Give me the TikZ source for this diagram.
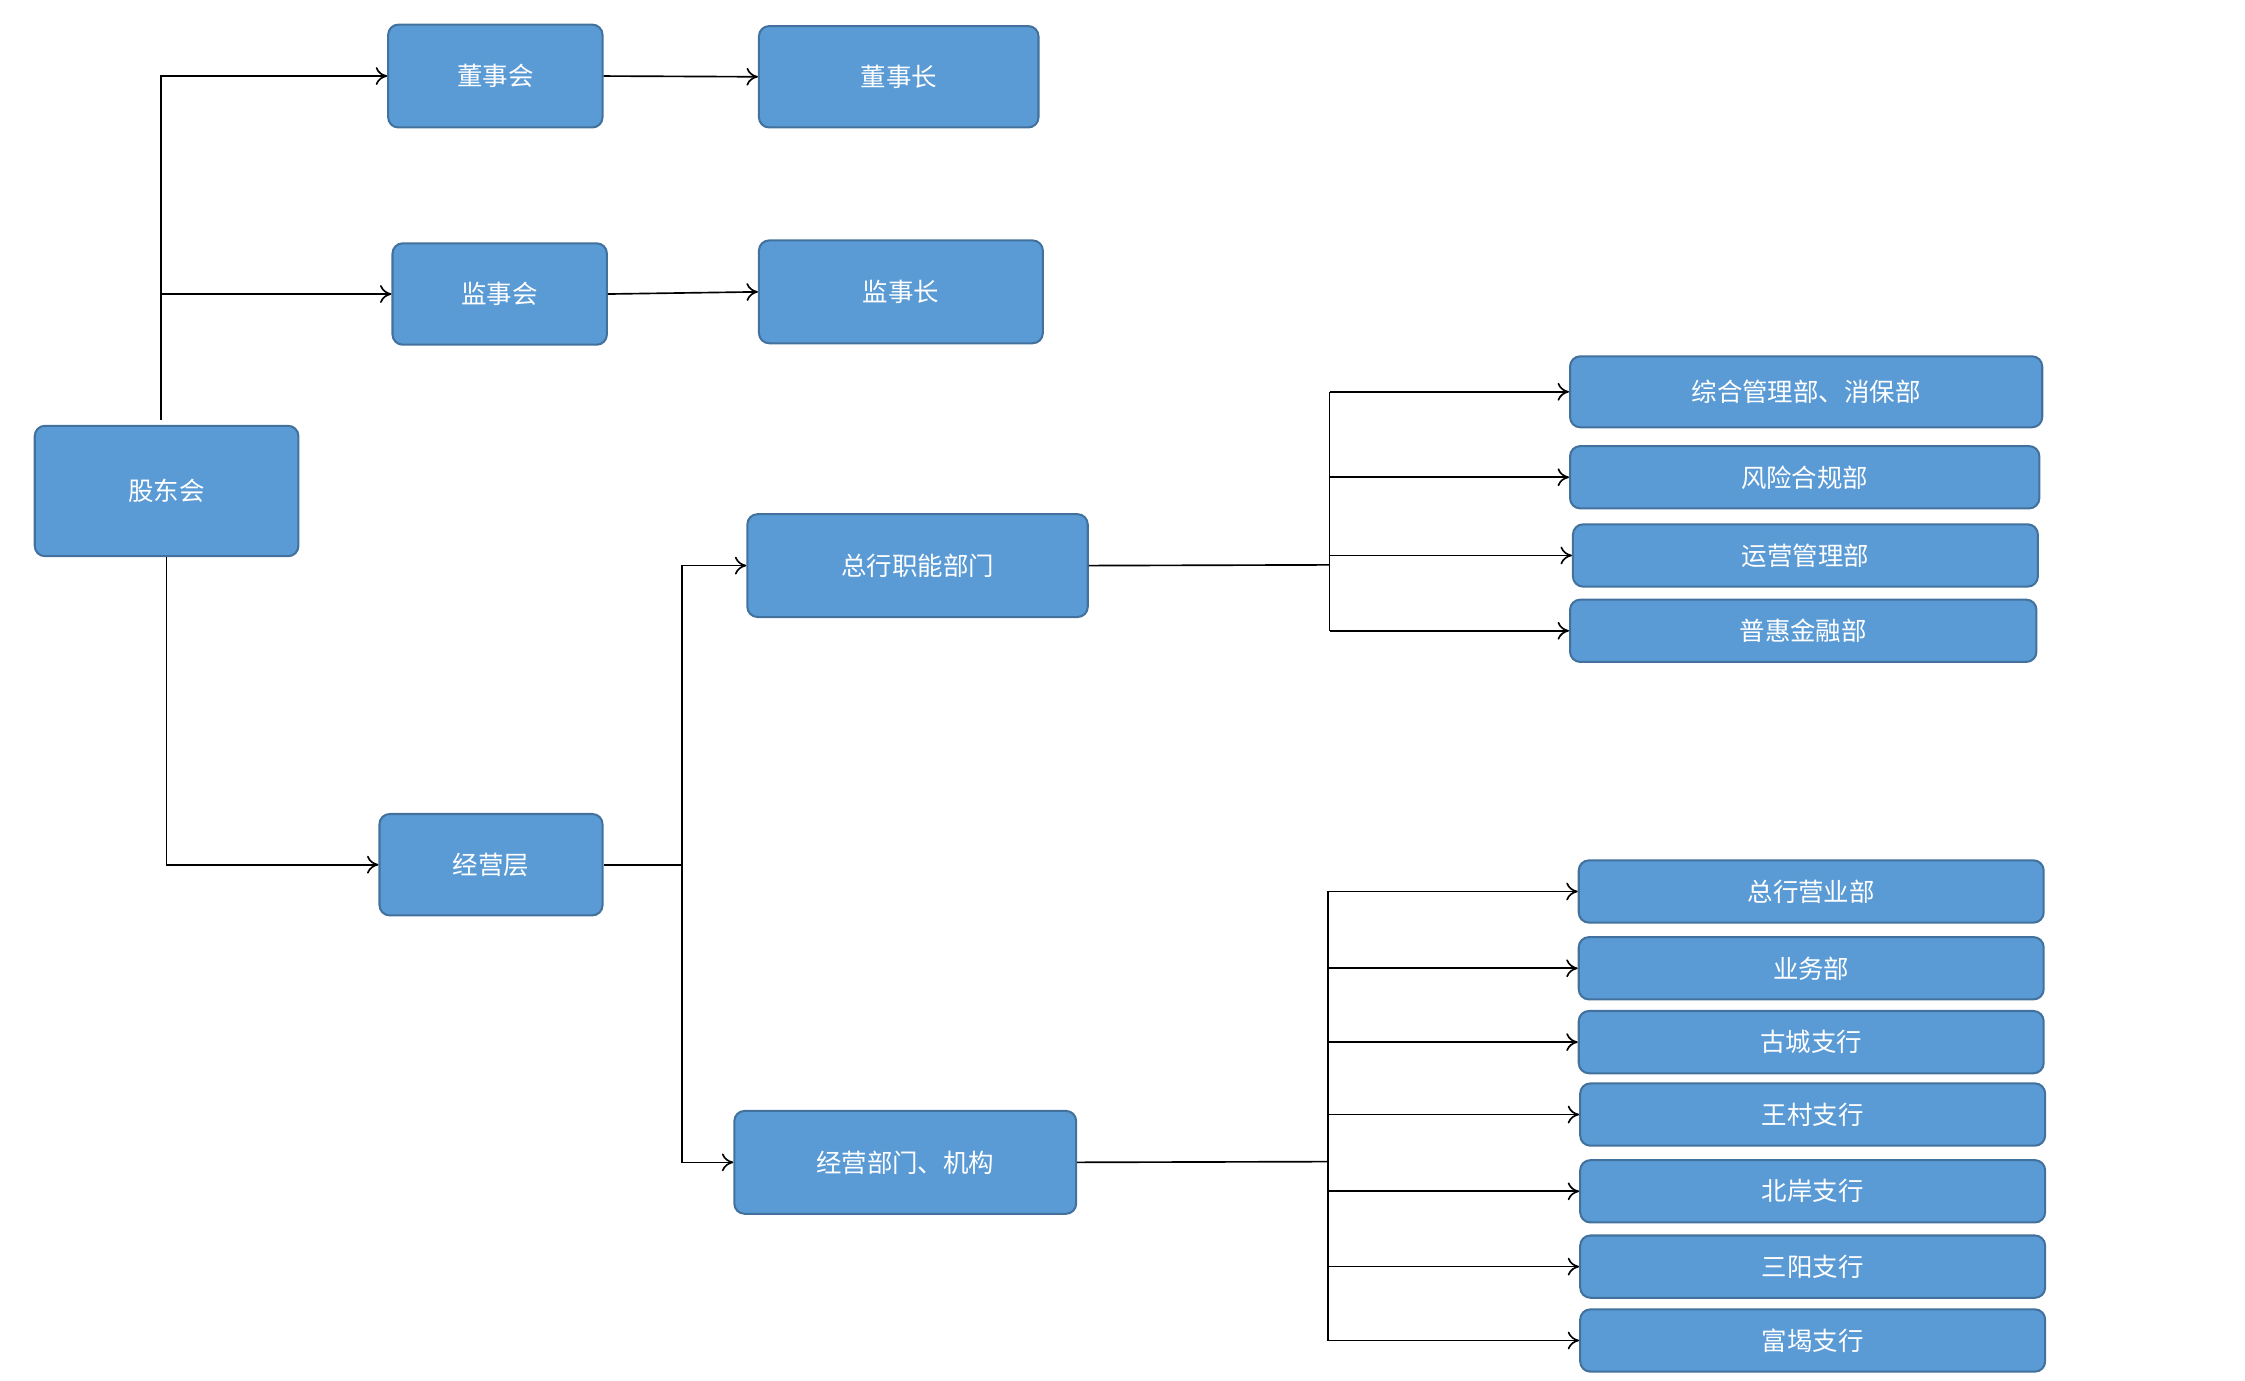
\documentclass[tikz,border=0pt]{standalone}
\usepackage{fontspec}
\setmainfont{Noto Sans CJK SC}
\usetikzlibrary{arrows.meta}
\definecolor{bfill}{HTML}{5B9BD5}
\definecolor{bdraw}{HTML}{41719C}
\begin{document}
\begin{tikzpicture}[x=0.04cm,y=-0.04cm,
  box/.style 2 args={draw=bdraw,fill=bfill,line width=1.6pt,rounded corners=8pt,text=white,
    font=\fontsize{20}{24}\selectfont,minimum width=#1*0.04cm,minimum height=#2*0.04cm,inner sep=0pt},
  ln/.style={line width=1.3pt,black},
  arr/.style={ln,-{To[length=9pt,width=14pt,line width=1.3pt]}}]
\useasboundingbox (0,0) rectangle (1550,953);
\node[box={148}{71}] (dsh) at (342,52.5) {董事会};
\node[box={193}{70}] (dsz) at (620.5,53) {董事长};
\node[box={148}{70}] (jsh) at (345,203) {监事会};
\node[box={196}{71}] (jsz) at (622,201.5) {监事长};
\node[box={182}{90}] (gd) at (115,339) {股东会};
\node[box={235}{71}] (zh) at (633.5,390.5) {总行职能部门};
\node[box={154}{70}] (jyc) at (339,597) {经营层};
\node[box={236}{71}] (jb) at (625,802.5) {经营部门、机构};
\node[box={326}{49}] (r1) at (1247,270.5) {综合管理部、消保部};
\node[box={324}{43}] (r2) at (1246,329.5) {风险合规部};
\node[box={321}{43}] (r3) at (1246.5,383.5) {运营管理部};
\node[box={322}{43}] (r4) at (1245,435.5) {普惠金融部};
\node[box={321}{43}] (s1) at (1250.5,615.5) {总行营业部};
\node[box={321}{43}] (s2) at (1250.5,668.5) {业务部};
\node[box={321}{43}] (s3) at (1250.5,719.5) {古城支行};
\node[box={321}{43}] (s4) at (1251.5,769.5) {王村支行};
\node[box={321}{43}] (s5) at (1251.5,822.5) {北岸支行};
\node[box={321}{43}] (s6) at (1251.5,874.5) {三阳支行};
\node[box={321}{43}] (s7) at (1251.5,925.5) {富堨支行};
\coordinate (g0) at (111,290);
\draw[arr] (g0) |- (dsh.west);
\draw[arr] (g0 |- jsh.west) -- (jsh.west);
\draw[arr] (dsh.east) -- (dsz.west);
\draw[arr] (jsh.east) -- (jsz.west);
\draw[arr] (gd.south) |- (jyc.west);
\draw[ln] (jyc.east) -- ++(54,0) coordinate (j1);
\draw[arr] (j1) |- (zh.west);
\draw[arr] (j1) |- (jb.west);
\coordinate (t1) at (918,390);
\draw[ln] (zh.east) -- (t1);
\draw[ln] (t1 |- r1.west) -- (t1 |- r4.west);
\foreach \r in {r1,r2,r3,r4} \draw[arr] (t1 |- \r.west) -- (\r.west);
\coordinate (t2) at (917,802);
\draw[ln] (jb.east) -- (t2);
\draw[ln] (t2 |- s1.west) -- (t2 |- s7.west);
\foreach \r in {s1,s2,s3,s4,s5,s6,s7} \draw[arr] (t2 |- \r.west) -- (\r.west);
\end{tikzpicture}
\end{document}
